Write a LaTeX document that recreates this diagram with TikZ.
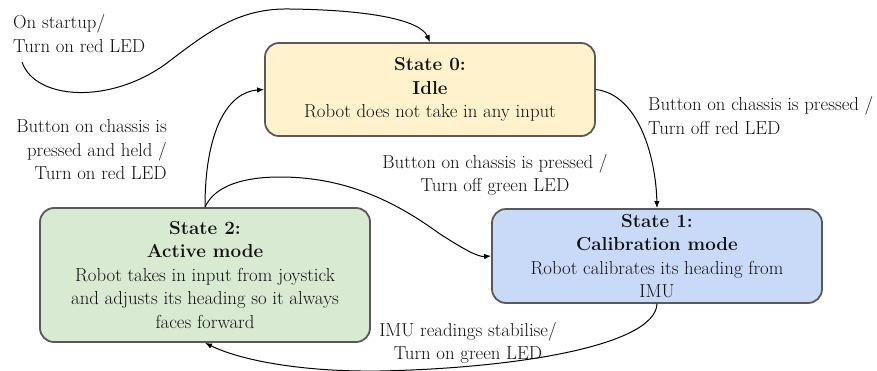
\documentclass[tikz,border=0pt]{standalone}
\usepackage{fontspec}
\usetikzlibrary{arrows.meta}
\definecolor{idlefill}{HTML}{FFF2CC}
\definecolor{calfill}{HTML}{C9DAF8}
\definecolor{actfill}{HTML}{D9EAD3}
\definecolor{boxline}{HTML}{595959}
\definecolor{txt}{HTML}{111111}
\begin{document}
\begin{tikzpicture}[x=1pt,y=-1pt,
  statebox/.style={draw=boxline, line width=1.8pt, rounded corners=14pt,
    minimum width=330pt, align=center, inner sep=0pt, text=txt,
    font=\fontsize{18.8}{23.5}\selectfont},
  lbl/.style={inner sep=0pt, text=txt, font=\fontsize{18.8}{23.5}\selectfont},
  conn/.style={draw=black, line width=1pt, -{Latex[length=7pt,width=5.5pt]}}]
\useasboundingbox (0,0) rectangle (877,370);

\node[statebox, fill=idlefill, minimum height=93pt] (s0) at (430,89.5)
  {\textbf{State 0:}\\\textbf{Idle}\\Robot does not take in any input};
\node[statebox, fill=calfill, minimum height=94pt] (s1) at (657,256)
  {\textbf{State 1:}\\\textbf{Calibration mode}\\Robot calibrates its heading from\\IMU};
\node[statebox, fill=actfill, minimum height=134pt] (s2) at (205,275)
  {\textbf{State 2:}\\\textbf{Active mode}\\Robot takes in input from joystick\\and adjusts its heading so it always\\faces forward};

\coordinate (start) at (22,62);

\node[lbl, align=left, anchor=west] (l0) at (13,33.5) {On startup/\\Turn on red LED};
\node[lbl, align=right, anchor=east] (l1) at (167,150) {Button on chassis is\\pressed and held /\\Turn on red LED};
\node[lbl, align=left, anchor=west] (l2) at (648,115.5) {Button on chassis is pressed /\\Turn off red LED};
\node[lbl, align=center] (l3) at (495,175) {Button on chassis is pressed /\\Turn off green LED};
\node[lbl, align=center] (l4) at (468,343) {IMU readings stabilise/\\Turn on green LED};

\draw[conn] (start) .. controls (35,100) and (110,105) .. (167,63)
  .. controls (210,30) and (240,8) .. (290,9)
  .. controls (370,10) and (420,20) .. (s0.north);
\draw[conn] (s2.north) .. controls (205,130) and (228,92) .. (s0.west);
\draw[conn] (s2.north) .. controls (215,185) and (245,177) .. (280,177)
  .. controls (350,177) and (400,205) .. (440,234)
  .. controls (465,250) and (478,257) .. (s1.west);
\draw[conn] (s0.east) .. controls (640,95) and (656,160) .. (s1.north);
\draw[conn] (s1.south) .. controls (655,345) and (520,368) .. (380,371)
  .. controls (300,372) and (240,360) .. (s2.south);
\end{tikzpicture}
\end{document}
